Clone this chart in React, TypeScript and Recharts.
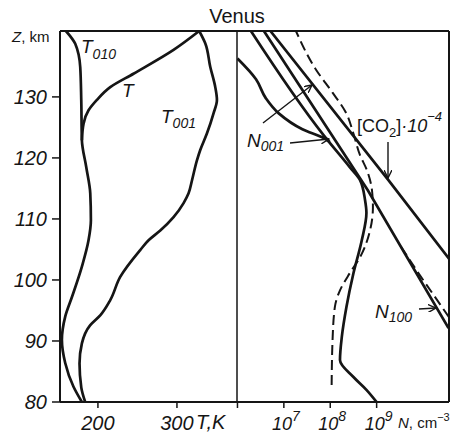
import React from "react";
import { LineChart, Line, XAxis, YAxis, ReferenceLine } from "recharts";

// axis ticks
const zTicks = [80, 90, 100, 110, 120, 130];
const tTicks = [200, 300];
const nTicks = [6, 7, 8, 9]; // log10 of N, cm^-3

// left panel: temperatures, K (z in km)
const t010 = [
  { z: 80, t: 179.7 }, { z: 82.5, t: 169.1 }, { z: 86.4, t: 158.6 }, { z: 90.2, t: 154.4 },
  { z: 94.0, t: 158.6 }, { z: 97.2, t: 167.1 }, { z: 102.2, t: 179.7 }, { z: 106.5, t: 188.1 },
  { z: 109.8, t: 191.1 }, { z: 114.2, t: 190.3 }, { z: 118.5, t: 185.2 }, { z: 122.9, t: 179.7 },
  { z: 129.5, t: 178.9 }, { z: 134.9, t: 177.6 }, { z: 138.7, t: 171.3 }, { z: 140.8, t: 159.5 },
];
const tKin = [
  { z: 122.9, t: 179.7 }, { z: 125.6, t: 181.8 }, { z: 127.8, t: 188.1 }, { z: 129.5, t: 198.7 },
  { z: 131.6, t: 215.6 }, { z: 133.8, t: 245 }, { z: 137.7, t: 295.7 }, { z: 140.8, t: 328.2 },
];
const t001 = [
  { z: 80, t: 183.9 }, { z: 82.4, t: 178.9 }, { z: 86.3, t: 176.7 }, { z: 89.6, t: 179.7 },
  { z: 92.6, t: 190.3 }, { z: 94.2, t: 202.9 }, { z: 96.7, t: 215.6 }, { z: 100.5, t: 228.2 },
  { z: 104.9, t: 253.5 }, { z: 106.5, t: 264.1 }, { z: 108.1, t: 278.9 }, { z: 110.3, t: 295.7 },
  { z: 112.6, t: 308.4 }, { z: 114.2, t: 314.7 }, { z: 116.3, t: 319 }, { z: 119.6, t: 325.3 },
  { z: 121.3, t: 329.5 }, { z: 124.0, t: 337.9 }, { z: 127.3, t: 346.3 }, { z: 129.5, t: 350.6 },
  { z: 131.6, t: 348.5 }, { z: 134.9, t: 342.2 }, { z: 138.8, t: 335.8 }, { z: 140.8, t: 328.2 },
];

// right panel: number densities, log10 N (z in km)
const co2 = [
  { z: 103.5, n: 10.56 }, { z: 116.4, n: 9.25 }, { z: 140.8, n: 6.71 },
];
const n100 = [
  { z: 92.1, n: 10.55 }, { z: 114.7, n: 8.81 }, { z: 140.8, n: 6.57 },
];
const n100Lte = [
  { z: 93.9, n: 10.56 }, { z: 100.8, n: 9.93 }, { z: 105.5, n: 9.52 },
];
const n001Main = [
  { z: 80, n: 9.0 }, { z: 82.0, n: 8.78 }, { z: 84.1, n: 8.5 }, { z: 86.9, n: 8.21 },
  { z: 90.7, n: 8.25 }, { z: 95.6, n: 8.35 }, { z: 101.1, n: 8.5 }, { z: 106.5, n: 8.68 },
  { z: 111.0, n: 8.78 }, { z: 113.1, n: 8.75 }, { z: 116.4, n: 8.64 }, { z: 118.5, n: 8.42 },
  { z: 123.7, n: 7.86 }, { z: 140.8, n: 6.29 },
];
const n001Upper = [
  { z: 122.6, n: 7.99 }, { z: 123.1, n: 7.9 }, { z: 124.7, n: 7.4 }, { z: 127.3, n: 6.89 },
  { z: 129.8, n: 6.61 }, { z: 132.9, n: 6.4 }, { z: 136.3, n: 6.0 },
];
const n001Lte = [
  { z: 82.8, n: 8.03 }, { z: 90.2, n: 8.05 }, { z: 95.6, n: 8.1 }, { z: 98.3, n: 8.21 },
  { z: 101.1, n: 8.42 }, { z: 103.7, n: 8.64 }, { z: 108.2, n: 8.86 }, { z: 111.9, n: 8.92 },
  { z: 114.7, n: 8.9 }, { z: 118.0, n: 8.79 }, { z: 120.5, n: 8.64 }, { z: 124.0, n: 8.5 },
  { z: 127.4, n: 8.34 }, { z: 130.7, n: 8.05 }, { z: 134.5, n: 7.69 }, { z: 140.8, n: 7.26 },
];

const INK = "#151515";
const FONT = "'Liberation Sans', Arial, sans-serif";
const Z_DOMAIN: [number, number] = [80, 140.8];

const ZTick = ({ x, y, payload }: any) => (
  <text x={x - 3} y={y} dy="0.36em" textAnchor="end" fontSize={20} fontStyle="italic" fontFamily={FONT} fill={INK}>
    {payload.value}
  </text>
);

const TTick = ({ x, y, payload }: any) => (
  <text x={x} y={y + 20} textAnchor="middle" fontSize={20} fontStyle="italic" fontFamily={FONT} fill={INK}>
    {payload.value}
  </text>
);

const NTick = ({ x, y, payload }: any) =>
  payload.value === 6 ? null : (
    <text x={x + 2} y={y + 20} textAnchor="middle" fontSize={18} fontStyle="italic" fontFamily={FONT} fill={INK}>
      <tspan>10</tspan>
      <tspan dy={-9} fontSize={14}>{payload.value}</tspan>
    </text>
  );

const lineStyle = { stroke: INK, strokeWidth: 2.7, dot: false, isAnimationActive: false };

function Labels() {
  const txt = { fontFamily: FONT, fill: INK, fontStyle: "italic" as const };
  return (
    <svg width={457} height={434} style={{ position: "absolute", left: 0, top: 0, pointerEvents: "none" }}>
      <defs>
        <marker id="ah" markerWidth="9" markerHeight="8" refX="8" refY="4" orient="auto" markerUnits="userSpaceOnUse">
          <path d="M0,0 L8,4 L0,8" fill="none" stroke={INK} strokeWidth={1.4} />
        </marker>
      </defs>
      <text x={237} y={23} textAnchor="middle" fontSize={20} fontFamily={FONT} fill={INK}>Venus</text>
      <text x={12} y={42} fontSize={15} fontFamily={FONT} fill={INK}>
        <tspan fontStyle="italic">Z</tspan>, km
      </text>
      <text x={196} y={429} fontSize={20} {...txt}>T,K</text>
      <text x={398} y={428} fontSize={15} fontFamily={FONT} fill={INK}>
        <tspan fontStyle="italic">N</tspan>, cm<tspan dy={-7} fontSize={11}>−3</tspan>
      </text>

      <text x={81} y={53} fontSize={19} {...txt}>T<tspan dy={6} fontSize={14}>010</tspan></text>
      <text x={122} y={97} fontSize={19} {...txt}>T</text>
      <text x={161} y={123} fontSize={19} {...txt}>T<tspan dy={5} fontSize={14}>001</tspan></text>

      <text x={247} y={147} fontSize={19} {...txt}>N<tspan dy={4} fontSize={14}>001</tspan></text>
      <line x1={290} y1={143} x2={329} y2={139} stroke={INK} strokeWidth={1.4} markerEnd="url(#ah)" />
      <line x1={263} y1={123} x2={312} y2={85} stroke={INK} strokeWidth={1.4} markerEnd="url(#ah)" />

      <text x={357} y={132} fontSize={18} fontFamily={FONT} fill={INK}>
        [CO<tspan dy={5} fontSize={13}>2</tspan><tspan dy={-5}>]</tspan>
        <tspan fontStyle="italic">·10</tspan>
        <tspan dy={-11} fontSize={13} fontStyle="italic">−4</tspan>
      </text>
      <line x1={388} y1={142} x2={388} y2={178} stroke={INK} strokeWidth={1.4} markerEnd="url(#ah)" />

      <text x={375} y={318} fontSize={19} {...txt}>N<tspan dy={4} fontSize={14}>100</tspan></text>
      <line x1={419} y1={309} x2={436} y2={308} stroke={INK} strokeWidth={1.4} markerEnd="url(#ah)" />
    </svg>
  );
}

export default function App() {
  return (
    <div style={{ position: "absolute", left: 0, top: 0, width: 457, height: 434, background: "#fff" }}>
      <div style={{ position: "absolute", left: 0, top: 0 }}>
        <LineChart width={457} height={434} layout="vertical" margin={{ top: 31, right: 220, bottom: 0, left: 0 }}>
          <XAxis
            type="number"
            domain={[152, 376]}
            ticks={tTicks}
            allowDataOverflow
            height={32}
            tickSize={6}
            axisLine={{ stroke: INK, strokeWidth: 2 }}
            tickLine={{ stroke: INK, strokeWidth: 1.5 }}
            tick={<TTick />}
          />
          <YAxis
            type="number"
            dataKey="z"
            domain={Z_DOMAIN}
            ticks={zTicks}
            allowDataOverflow
            reversed
            width={60}
            tickSize={8}
            axisLine={{ stroke: INK, strokeWidth: 2 }}
            tickLine={{ stroke: INK, strokeWidth: 1.5 }}
            tick={<ZTick />}
          />
          <ReferenceLine y={140.8} stroke={INK} strokeWidth={2} />
          <ReferenceLine x={376} stroke={INK} strokeWidth={1.5} />
          <Line data={t010} dataKey="t" type="monotoneY" {...lineStyle} />
          <Line data={tKin} dataKey="t" type="monotoneY" {...lineStyle} />
          <Line data={t001} dataKey="t" type="monotoneY" {...lineStyle} />
        </LineChart>
      </div>
      <div style={{ position: "absolute", left: 0, top: 0 }}>
        <LineChart width={457} height={434} layout="vertical" margin={{ top: 31, right: 8, bottom: 0, left: 237 }}>
          <XAxis
            type="number"
            domain={[5.99, 10.56]}
            ticks={nTicks}
            allowDataOverflow
            height={32}
            tickSize={6}
            axisLine={{ stroke: INK, strokeWidth: 2 }}
            tickLine={{ stroke: INK, strokeWidth: 1.5 }}
            tick={<NTick />}
          />
          <YAxis type="number" dataKey="z" domain={Z_DOMAIN} allowDataOverflow reversed hide />
          <ReferenceLine y={140.8} stroke={INK} strokeWidth={2} />
          <ReferenceLine x={10.56} stroke={INK} strokeWidth={2} />
          <Line data={co2} dataKey="n" type="linear" {...lineStyle} />
          <Line data={n100} dataKey="n" type="linear" {...lineStyle} />
          <Line data={n100Lte} dataKey="n" type="linear" {...lineStyle} strokeWidth={2} strokeDasharray="10 5" />
          <Line data={n001Main} dataKey="n" type="monotoneY" {...lineStyle} />
          <Line data={n001Upper} dataKey="n" type="monotoneY" {...lineStyle} />
          <Line data={n001Lte} dataKey="n" type="monotoneY" {...lineStyle} strokeWidth={2} strokeDasharray="10 5" />
        </LineChart>
      </div>
      <Labels />
    </div>
  );
}
